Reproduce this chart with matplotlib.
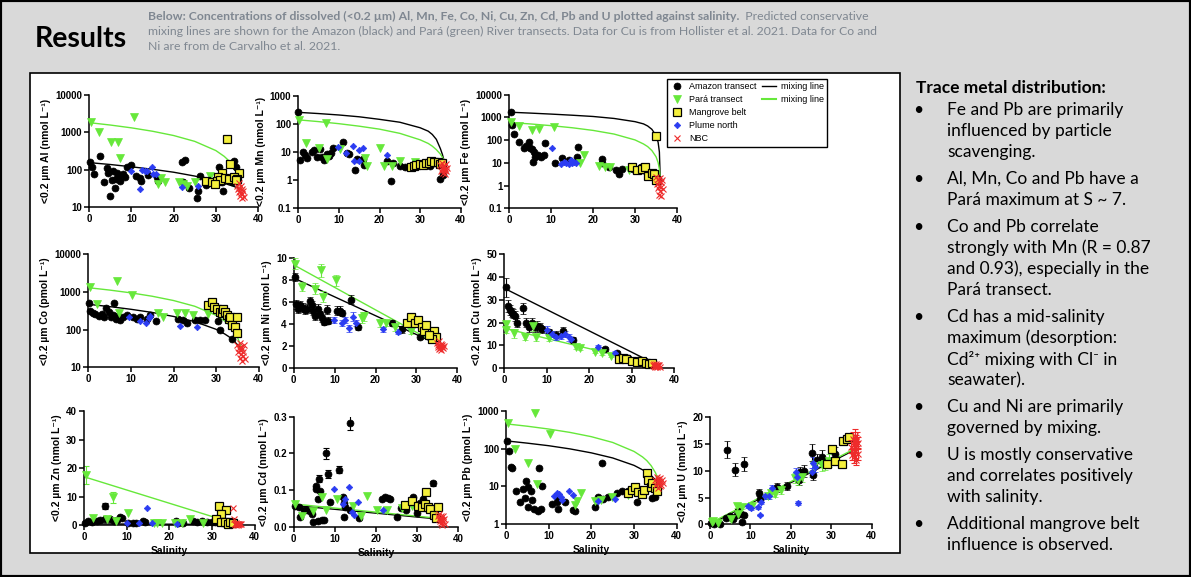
import matplotlib
matplotlib.use('Agg')
import matplotlib.pyplot as plt
from matplotlib.lines import Line2D
from matplotlib.patches import Rectangle

# ---------------- data (salinity, concentration) ----------------
nbc_s = [35.0, 35.2, 35.4, 35.5, 35.6, 35.7, 35.8, 35.9, 36.0, 36.1, 36.2, 36.3, 36.5, 36.7]

# mixing lines: salinity points and concentrations along each line
log_mix_s = [0, 5, 10, 15, 20, 25, 30, 32, 33, 34, 35, 35.5, 35.8, 36]
lin_mix_s = [0, 36]

# Al (nmol/L)
al_amz_s = [0.2, 0.7, 1.2, 2.5, 3.5, 4.3, 4.4, 5.0, 5.3, 5.7, 6.2, 6.6, 6.3, 6.9, 7.3, 7.9, 8.4, 8.9, 9.8, 11.0,
            12.0, 12.3, 14.0, 16.0, 16.4, 21.9, 22.7, 22.1, 23.7, 25.5, 25.8, 26.3, 27.7, 30.8, 31.4, 31.6, 34.3, 34.9, 33.8]
al_amz_c = [162, 117, 79, 234, 46, 110, 81, 20, 53, 93, 32, 83, 56, 66, 51, 77, 66, 121, 132, 68,
            59, 51, 73, 63, 51, 165, 182, 48, 32, 17.5, 27, 70, 39, 117, 48, 28, 175, 117, 48]
al_para_s = [0.3, 2.3, 5.1, 6.9, 7.3, 10.6, 16.9, 16.3, 17.9, 21.3, 22.3, 23.1, 25.0, 28.6]
al_para_c = [1830, 990, 550, 550, 200, 2600, 59, 42, 48, 47, 43, 37, 46, 68]
al_plume_s = [10.0, 12.0, 12.6, 13.2, 13.6, 14.9, 15.2, 15.8, 21.9, 25.8]
al_plume_c = [91, 31, 100, 90, 95, 118, 77, 77, 34, 36]
al_mang_s = [32.6, 33.4, 35.5, 31.4, 30.5, 27.6, 29.0, 30.2, 31.0, 32.2, 33.1, 34.2, 35.0, 34.7, 29.8]
al_mang_c = [650, 142, 81, 83, 66, 51, 46, 50, 54, 60, 56, 66, 57, 54, 42]
al_nbc_c = [38, 30, 45, 25, 33, 20, 28, 36, 24, 18, 30, 22, 27, 19]
al_mix_amz = [155, 138, 120, 103, 86, 68, 51, 44, 40, 37, 33.5, 31.7, 30.7, 30]
al_mix_para = [1800, 1554, 1308, 1062, 817, 571, 325, 227, 178, 128, 79, 55, 40, 30]

# Mn (nmol/L)
mn_amz_s = [0.0, 0.4, 1.1, 1.7, 2.2, 3.3, 3.9, 4.5, 5.4, 5.8, 6.3, 7.0, 7.6, 8.0, 8.6, 11.1, 12.1, 12.5, 14.0, 14.4,
            16.0, 16.2, 21.8, 22.8, 23.4, 25.0, 26.3, 28.3, 30.0, 32.4, 34.9, 35.7]
mn_amz_c = [260, 5.2, 9.7, 7.8, 6.1, 10, 11.8, 6.5, 12.5, 6.5, 5.2, 8.6, 7.3, 9.4, 13.5, 22.7, 9.4, 8.6, 2.27, 5.5,
            5.6, 3.5, 4.7, 0.93, 4.0, 3.0, 2.8, 2.8, 3.5, 3.2, 1.05, 1.5]
mn_para_s = [0.2, 1.9, 5.1, 6.8, 7.1, 10.3, 16.4, 16.8, 20.1, 21.2, 23.0, 25.0, 28.7]
mn_para_c = [140, 20, 13.3, 111, 5.6, 13, 5.8, 3.1, 13.3, 3.1, 3.1, 4.8, 4.4]
mn_plume_s = [9.9, 11.7, 13.4, 13.7, 15.0, 14.9, 16.0, 21.9]
mn_plume_c = [14.5, 9.4, 16.6, 4.7, 4.7, 11.6, 13.3, 7.6]
mn_mang_s = [27.7, 28.5, 29.1, 29.9, 30.7, 31.5, 32.3, 32.7, 33.5, 34.3, 35.0, 35.5]
mn_mang_c = [2.8, 3.1, 3.5, 3.7, 3.4, 4.1, 3.9, 4.7, 4.3, 4.4, 3.8, 4.1]
mn_nbc_c = [3.5, 2.0, 4.0, 2.5, 3.0, 1.8, 2.2, 3.2, 2.8, 1.6, 2.4, 3.8, 2.0, 2.6]
mn_mix_amz = [260, 235, 209, 180, 146, 115, 73, 55, 42, 28, 13, 8, 5.5, 4]
mn_mix_para = [140, 121, 102, 83, 65, 46, 27, 20, 16, 12, 8.3, 6.4, 5.2, 4.5]

# Fe (nmol/L)
fe_amz_s = [0.4, 0.7, 1.2, 2.4, 3.4, 3.9, 4.6, 5.0, 5.5, 5.9, 6.2, 5.7, 6.8, 7.6, 8.2, 8.6, 11.0, 12.6, 14.2, 16.2,
            16.3, 22.0, 22.2, 23.8, 25.4, 26.2, 27.0, 29.4, 31.4, 31.8, 34.2, 35.0, 35.4]
fe_amz_c = [1730, 464, 186, 83, 44, 58, 85, 44, 40, 31, 18, 11, 22, 18, 22, 77, 9.5, 16, 14, 18,
            52, 15, 9.5, 6.8, 4.8, 3.2, 5.5, 5.2, 6.5, 4.8, 3.0, 2.5, 1.9]
fe_para_s = [0.4, 2.2, 5.4, 7.0, 10.6, 17.8, 16.8, 21.5, 22.9, 23.9, 28.6]
fe_para_c = [650, 420, 280, 300, 366, 23, 10, 7.3, 6.3, 6.3, 5.0]
fe_plume_s = [10.2, 12.4, 13.0, 13.6, 14.2, 14.6, 15.0, 15.4, 16.0]
fe_plume_c = [46, 8.6, 10.5, 9.5, 8.6, 13.4, 10, 11, 10]
fe_mang_s = [34.9, 29.2, 30.4, 31.6, 32.4, 33.2, 34.0, 34.6, 35.1]
fe_mang_c = [150, 6.3, 4.8, 5.3, 6.3, 2.7, 3.5, 3.2, 1.8]
fe_nbc_c = [2.5, 1.2, 0.8, 2.0, 0.4, 1.0, 1.6, 0.6, 2.2, 0.35, 1.4, 0.9, 1.8, 0.7]
fe_mix_amz = [1700, 1550, 1400, 1250, 1100, 900, 650, 520, 420, 300, 160, 80, 30, 2]
fe_mix_para = [600, 517, 434, 351, 268, 185, 102, 68, 52, 35, 18.6, 10.3, 5.3, 2]

# Co (pmol/L)
co_amz_s = [0.2, 0.4, 1.0, 1.6, 2.4, 3.1, 3.7, 4.1, 4.8, 5.3, 5.8, 6.0, 6.4, 7.0, 7.4, 8.2, 9.0, 10.6, 11.4, 12.2,
            13.7, 14.6, 16.0, 21.1, 22.3, 23.1, 25.0, 26.2, 27.4, 30.5, 30.9, 33.7]
co_amz_c = [500, 316, 283, 260, 230, 260, 210, 368, 300, 212, 250, 500, 190, 230, 180, 210, 245, 212, 190, 212,
            190, 240, 165, 188, 180, 153, 175, 175, 180, 165, 100, 58]
co_para_s = [0.4, 2.0, 6.8, 7.2, 10.2, 16.4, 17.6, 20.9, 22.7, 24.6, 28.2]
co_para_c = [1380, 470, 1950, 280, 830, 283, 212, 272, 272, 250, 260]
co_plume_s = [9.6, 12.1, 13.5, 14.2, 14.6, 21.5, 25.4]
co_plume_c = [212, 170, 147, 200, 230, 125, 115]
co_mang_s = [28.2, 29.0, 29.4, 30.3, 30.8, 31.3, 31.7, 32.1, 32.5, 33.0, 33.3, 33.7, 34.4, 35.0, 34.8]
co_mang_c = [450, 530, 400, 345, 300, 270, 350, 300, 245, 190, 220, 135, 115, 220, 80]
co_nbc_c = [40, 25, 33, 18, 45, 28, 22, 35, 15, 30, 20, 26, 38, 17]
co_mix_amz = [470, 409, 347, 286, 224, 163, 102, 77, 65, 52.5, 40, 34, 30.5, 28]
co_mix_para = [1300, 1123, 947, 770, 593, 417, 240, 169, 134, 99, 63, 45.7, 35, 28]

# Ni (nmol/L)
ni_amz_s = [0.3, 0.6, 1.1, 1.5, 2.2, 2.7, 3.3, 4.0, 4.4, 4.8, 5.2, 6.0, 6.4, 6.8, 7.4, 8.1, 8.4, 10.7, 11.3, 11.9,
            13.9, 15.8, 24.0, 26.4, 31.0]
ni_amz_c = [8.3, 5.8, 5.4, 5.7, 5.5, 5.3, 5.4, 6.1, 5.7, 5.2, 4.7, 5.4, 4.9, 4.5, 4.2, 5.3, 4.3, 5.2, 5.2, 5.0,
            6.2, 3.75, 4.1, 3.5, 2.8]
ni_amz_e = [0.4, 0.4, 0.4, 0.4, 0.4, 0.4, 0.4, 0.4, 0.4, 0.4, 0.3, 0.4, 0.3, 0.3, 0.3, 0.4, 0.3, 0.4, 0.4, 0.3,
            0.4, 0.3, 0.3, 0.3, 0.2]
ni_para_s = [0.3, 2.0, 5.2, 6.7, 7.2, 10.3, 16.6, 17.2, 21.0, 22.6, 24.8, 28.8]
ni_para_c = [9.5, 7.4, 7.2, 8.9, 6.5, 8.0, 4.5, 4.7, 4.05, 4.1, 3.7, 3.4]
ni_para_e = [0.5, 0.4, 0.5, 0.6, 0.5, 0.5, 0.4, 0.4, 0.3, 0.3, 0.3, 0.3]
ni_plume_s = [9.9, 11.9, 12.5, 13.4, 14.6, 15.2, 21.9, 25.6]
ni_plume_c = [4.35, 4.1, 4.35, 3.6, 4.65, 4.1, 3.5, 3.3]
ni_plume_e = [0.3, 0.3, 0.3, 0.3, 0.4, 0.3, 0.2, 0.2]
ni_mang_s = [27.6, 28.8, 29.6, 30.5, 31.3, 31.9, 32.4, 34.4, 34.9, 33.9, 33.2]
ni_mang_c = [4.05, 4.65, 4.1, 4.4, 3.7, 3.4, 3.9, 3.4, 2.8, 2.6, 3.0]
ni_nbc_c = [2.3, 1.9, 2.1, 1.7, 2.4, 2.0, 1.8, 2.2, 1.6, 2.0, 1.9, 2.1, 1.8, 2.0]
ni_mix_amz = [8.2, 2.0]
ni_mix_para = [9.4, 2.0]

# Cu (nmol/L)
cu_amz_s = [0.3, 0.8, 1.3, 1.7, 2.1, 2.5, 3.1, 4.5, 5.2, 5.8, 6.6, 7.2, 7.8, 8.4, 8.9, 10.5, 12.3, 13.9, 16.3, 23.7,
            26.5, 29.2, 31.4, 33.2, 34.7]
cu_amz_c = [35.4, 27.3, 25.5, 24.3, 23.8, 22.9, 20, 26.2, 20, 18, 20, 18, 18.5, 17.9, 17, 15.9, 14.6, 16.5, 12.4, 8.3,
            6.9, 4.5, 3.6, 3.4, 2.5]
cu_amz_e = [4, 2.5, 2, 2, 2, 2, 2, 2.5, 2, 2, 2, 2, 2, 2, 1.5, 1.5, 1.5, 1.5, 1.2, 0.8,
            0.7, 0.5, 0.4, 0.4, 0.3]
cu_para_s = [0.3, 0.4, 2.4, 4.9, 6.8, 7.4, 10.6, 17.0, 17.8, 21.4, 23.0, 25.1]
cu_para_c = [19.4, 16.8, 15.3, 13.8, 18.5, 13.6, 13.1, 9.5, 8.8, 7.3, 6.6, 5.4]
cu_para_e = [1.5, 1.5, 2, 1.5, 2, 1.5, 1, 1, 1, 0.8, 0.7, 0.6]
cu_plume_s = [10.0, 11.3, 12.3, 13.3, 14.3, 15.2, 15.7, 22.2, 26.1]
cu_plume_c = [16.8, 15.0, 13.8, 14.1, 15.0, 13.6, 12.7, 9.2, 6.9]
cu_plume_e = [1.5, 1.5, 1.5, 1.5, 1.5, 1.5, 1.2, 0.8, 0.6]
cu_mang_s = [27.0, 28.0, 28.8, 30.2, 31.2, 32.4, 33.3, 34.1, 34.7]
cu_mang_c = [3.9, 4.4, 3.9, 3.4, 2.9, 3.4, 2.2, 1.8, 2.5]
cu_nbc_c = [1.5, 0.8, 2.0, 1.2, 0.6, 1.8, 1.0, 1.4, 0.5, 1.1, 1.6, 0.9, 1.3, 0.7]
cu_mix_amz = [35.0, 1.5]
cu_mix_para = [17.5, 1.5]

# Zn (nmol/L)
zn_amz_s = [0.2, 1.0, 1.8, 3.0, 3.7, 4.9, 5.0, 6.1, 7.0, 7.8, 8.4, 8.8, 10.4, 11.5, 12.3, 13.8, 14.4, 21.6, 22.1, 23.3,
            25.6, 26.4, 27.6, 28.8, 29.9, 30.7, 32.7, 34.2]
zn_amz_c = [0.9, 1.6, 1.3, 1.6, 1.9, 2.2, 6.8, 2.1, 1.6, 1.9, 2.8, 2.4, 0.9, 0.9, 0.7, 1.6, 1.0, 1.6, 0.9, 0.7,
            1.6, 1.3, 1.6, 1.3, 1.0, 1.0, 0.7, 0.5]
zn_para_s = [0.5, 2.0, 5.3, 6.9, 7.5, 10.4, 16.3, 17.1, 18.3, 21.4, 22.9, 24.8, 28.0]
zn_para_c = [17.6, 2.4, 2.1, 9.8, 1.6, 4.2, 0.7, 0.9, 0.9, 0.7, 0.7, 2.2, 0.7]
zn_plume_s = [10.0, 13.0, 14.7, 16.0, 21.7]
zn_plume_c = [0.9, 0.9, 6.2, 0.7, 0.5]
zn_mang_s = [31.7, 33.3, 32.0, 31.0, 32.2, 33.0, 33.8, 34.2, 35.0]
zn_mang_c = [6.8, 5.4, 3.8, 2.1, 1.3, 1.3, 0.5, 1.0, 0.7]
zn_nbc_c = [5.9, 2.2, 0.5, 0.3, 0.7, 0.2, 0.4, 0.6, 0.3, 0.5, 0.2, 0.4, 0.3, 0.6]
zn_amz_bar_s = [5.0]
zn_amz_bar_c = [6.8]
zn_amz_bar_e = [1.0]
zn_para_bar_s = [0.5, 6.9]
zn_para_bar_c = [17.6, 9.8]
zn_para_bar_e = [3.2, 2.0]
zn_mix_amz = [0.5, 0.3]
zn_mix_para = [17.0, 0.3]

# Cd (nmol/L)
cd_amz_s = [0.3, 1.4, 1.5, 2.5, 3.2, 4.0, 4.4, 4.8, 5.4, 5.5, 5.9, 5.9, 6.2, 6.5, 6.8, 7.4, 7.9, 8.4, 8.8, 10.9,
            12.1, 12.3, 12.3, 12.5, 13.8, 13.7, 15.9, 21.4, 22.2, 23.0, 23.4, 25.0, 26.0, 27.4, 28.9, 29.9, 30.7, 31.5,
            33.9, 34.9]
cd_amz_c = [0.056, 0.053, 0.027, 0.045, 0.045, 0.042, 0.036, 0.014, 0.111, 0.102, 0.075, 0.016, 0.131, 0.097, 0.018,
            0.018, 0.2, 0.144, 0.068, 0.156, 0.082, 0.064, 0.027, 0.053, 0.284, 0.045, 0.025, 0.075, 0.082, 0.079,
            0.076, 0.027, 0.05, 0.045, 0.08, 0.038, 0.065, 0.075, 0.118, 0.053]
cd_para_s = [0.3, 1.9, 4.7, 6.8, 7.9, 10.6, 14.3, 16.3, 17.7, 20.2, 22.6, 26.2, 28.7]
cd_para_c = [0.062, 0.029, 0.044, 0.08, 0.045, 0.075, 0.056, 0.029, 0.084, 0.045, 0.045, 0.05, 0.056]
cd_plume_s = [9.9, 12.1, 12.5, 13.5, 14.1, 14.7, 15.7, 21.8]
cd_plume_c = [0.102, 0.062, 0.075, 0.107, 0.041, 0.032, 0.068, 0.045]
cd_mang_s = [27.0, 28.7, 32.1, 30.3, 31.1, 31.9, 32.7, 33.1, 34.0, 34.7, 35.1]
cd_mang_c = [0.059, 0.071, 0.095, 0.056, 0.053, 0.062, 0.055, 0.048, 0.032, 0.025, 0.053]
cd_nbc_c = [0.03, 0.02, 0.035, 0.015, 0.025, 0.01, 0.02, 0.03, 0.005, 0.018, 0.028, 0.012, 0.022, 0.008]
cd_amz_bar_s = [6.2, 7.9, 8.4, 10.9, 13.8, 33.9]
cd_amz_bar_c = [0.131, 0.2, 0.144, 0.156, 0.284, 0.118]
cd_amz_bar_e = [0.01, 0.015, 0.01, 0.01, 0.02, 0.008]
cd_mix_amz = [0.058, 0.02]
cd_mix_para = [0.062, 0.022]

# Pb (pmol/L)
pb_amz_s = [0.3, 0.8, 1.2, 1.5, 2.3, 3.3, 4.1, 4.5, 4.8, 5.2, 5.2, 5.8, 6.1, 6.6, 7.4, 7.7, 8.3, 8.5, 10.7, 11.9,
            12.1, 12.3, 13.8, 15.8, 16.2, 20.9, 21.5, 22.4, 22.8, 24.0, 25.9, 27.1, 28.7, 30.6, 34.1, 34.9]
pb_amz_c = [161, 88, 32, 30, 7.8, 4, 8.4, 5, 14, 9.4, 2.8, 7.8, 4.4, 2.6, 2.2, 30, 2.6, 10.4, 3.5, 4,
            2.6, 5.2, 4, 2.4, 2.2, 2.9, 5.2, 42, 4.6, 5.2, 6.6, 7.4, 7.8, 4, 4.9, 5.3]
pb_para_s = [0.4, 2.1, 5.1, 6.8, 7.2, 10.3, 16.6, 16.2, 17.6, 20.9, 22.3, 24.8, 28.5, 29.4]
pb_para_c = [480, 100, 42, 850, 11.5, 240, 4.2, 3.2, 6.9, 4.2, 4.4, 5.3, 6.0, 6.6]
pb_plume_s = [11.3, 11.9, 12.4, 12.9, 13.2, 14.8, 15.6, 21.5, 25.5]
pb_plume_c = [5.6, 6.9, 6.3, 5.4, 4.4, 7.7, 5.8, 4.2, 4.6]
pb_mang_s = [33.0, 28.7, 29.5, 30.2, 31.0, 31.8, 32.4, 33.2, 33.9, 34.3, 34.9, 35.3]
pb_mang_c = [23, 6.8, 8.2, 9.5, 7.2, 6.5, 8.0, 15, 9.5, 12, 9.0, 7.4]
pb_nbc_c = [15, 11, 18, 13, 9, 16, 12, 14, 10, 17, 13, 11, 15, 12]
pb_mix_amz = [160, 139, 119, 98, 77, 56.5, 36, 27.5, 23.4, 19.3, 15.1, 13.1, 11.8, 11]
pb_mix_para = [450, 389, 328, 267, 206, 145, 84, 60, 48, 35.5, 23.3, 17.2, 13.4, 11]

# U (nmol/L)
u_amz_s = [0.2, 1.0, 2.5, 3.9, 4.2, 4.9, 5.7, 6.2, 6.6, 7.0, 7.6, 7.8, 8.5, 8.5, 12.1, 12.3, 16.5, 19.0, 21.9, 22.3,
           23.3, 25.2, 25.6, 26.4, 27.6, 30.9]
u_amz_c = [0.2, 0.1, 0.1, 1.1, 13.9, 1.6, 0.9, 10.2, 1.7, 2.5, 2.0, 0.5, 11.3, 1.7, 5.9, 4.7, 6.9, 7.2, 8.3, 9.7,
           10.0, 13.4, 9.2, 12.0, 12.6, 13.1]
u_amz_e = [0.1, 0.1, 0.1, 0.3, 1.6, 0.3, 0.2, 1.2, 0.3, 0.4, 0.3, 0.2, 1.3, 0.3, 0.7, 0.5, 0.8, 0.8, 0.9, 1.0,
           1.1, 1.6, 1.0, 1.2, 1.3, 1.4]
u_para_s = [0.4, 0.8, 2.0, 5.1, 6.6, 7.0, 8.0, 10.5, 14.4, 15.1, 16.2, 17.6, 21.0, 21.7, 22.7, 25.8, 27.6, 28.4, 29.4]
u_para_c = [0.5, 0.7, 0.3, 0.9, 3.4, 2.0, 3.2, 3.4, 5.3, 5.8, 5.7, 6.4, 8.6, 8.3, 8.8, 10.9, 11.1, 11.3, 11.9]
u_para_e = [0.1, 0.1, 0.1, 0.2, 0.4, 0.3, 0.4, 0.4, 0.6, 0.6, 0.6, 0.7, 0.9, 0.9, 0.9, 1.1, 1.1, 1.1, 1.2]
u_plume_s = [9.3, 10.1, 11.8, 12.4, 12.7, 13.5, 14.5, 15.3, 21.2, 21.7, 21.5, 25.6, 25.2, 26.0]
u_plume_c = [3.4, 3.0, 3.2, 1.7, 4.2, 5.2, 5.3, 6.7, 9.7, 4.0, 8.9, 11.5, 9.7, 10.7]
u_plume_e = [0.3, 0.3, 0.3, 0.2, 0.4, 0.5, 0.5, 0.6, 0.9, 0.3, 0.8, 1.0, 0.9, 1.0]
u_mang_s = [28.9, 30.1, 30.9, 33.0, 32.7, 33.8, 34.3]
u_mang_c = [11.3, 14.0, 11.9, 15.6, 11.3, 15.9, 16.3]
u_nbc_c = [14.5, 13, 16, 12.5, 15, 14, 16.5, 13.5, 15.5, 12, 14.8, 16, 13.2, 15.2]
u_nbc_e = [1.2, 1.0, 1.3, 1.0, 1.2, 1.1, 1.3, 1.1, 1.2, 1.0, 1.2, 1.3, 1.1, 1.2]
u_mix_amz = [0.0, 14.0]
u_mix_para = [0.2, 14.2]

# ---------------- styles ----------------
GREEN = '#66e83a'
YELLOW = '#f4ef3c'
BLUE = '#2b3cf2'
RED = '#ee2b2b'
GREY_TXT = '#7f8791'

amz_style = dict(marker='o', ms=5, mfc='black', mec='black', mew=0.5, zorder=3)
para_style = dict(marker='v', ms=5.5, mfc=GREEN, mec=GREEN, mew=0.5, zorder=3)
plume_style = dict(marker='D', ms=3.3, mfc=BLUE, mec=BLUE, mew=0.5, zorder=3)
mang_style = dict(marker='s', ms=5.5, mfc=YELLOW, mec='black', mew=0.9, zorder=4)
nbc_style = dict(marker='x', ms=5, mfc=RED, mec=RED, mew=0.8, zorder=5)

plt.rcParams['font.family'] = ['Liberation Sans', 'DejaVu Sans']
SLIDE_FONT = ['Lato', 'DejaVu Sans']

W, H = 1191, 577
fig = plt.figure(figsize=(W / 100, H / 100), dpi=100)
fig.patch.set_facecolor('#d9d9d9')

# white panel behind the plots
fig.add_artist(Rectangle((30 / W, 1 - 553 / H), 870 / W, 480 / H, transform=fig.transFigure,
                         facecolor='white', edgecolor='black', lw=1.2, zorder=-1))
# slide border
fig.add_artist(Rectangle((0, 0), 1, 1, transform=fig.transFigure, fill=False,
                         edgecolor='black', lw=3, zorder=10))


def new_axes(x0, x1, y0, y1):
    # pixel box -> figure fractions
    return fig.add_axes([x0 / W, 1 - y1 / H, (x1 - x0) / W, (y1 - y0) / H])


def setup(ax, ylog, yticks, ylabel, fmt='%g', xlabel=False):
    if ylog:
        ax.set_yscale('log')
    ax.set_xlim(0, 40)
    ax.set_ylim(yticks[0], yticks[-1])
    ax.set_xticks([0, 10, 20, 30, 40])
    ax.set_yticks(yticks)
    ax.set_yticklabels([fmt % v for v in yticks])
    ax.minorticks_off()
    ax.set_facecolor('none')
    ax.spines[['top', 'right']].set_visible(False)
    ax.spines['left'].set_linewidth(1.1)
    ax.spines['bottom'].set_linewidth(1.1)
    ax.tick_params(labelsize=7, width=1.1, length=3.5, pad=1.5)
    for lab in ax.get_xticklabels() + ax.get_yticklabels():
        lab.set_fontweight('bold')
    ax.set_ylabel(ylabel, fontsize=7.5, fontweight='bold', labelpad=3)
    if xlabel:
        ax.set_xlabel('Salinity', fontsize=7.5, fontweight='bold', labelpad=3)


def pts(ax, s, c, style, e=None, ecolor='black'):
    if e is None:
        ax.plot(s, c, ls='none', clip_on=False, **style)
    else:
        ax.errorbar(s, c, yerr=e, ls='none', ecolor=ecolor, elinewidth=0.8, capsize=2,
                    capthick=0.8, clip_on=False, **style)


def draw(ax, mix_s, mix_amz, mix_para, amz_s, amz_c, para_s, para_c, plume_s, plume_c,
         mang_s, mang_c, nbc_c, amz_e=None, para_e=None, plume_e=None, nbc_e=None):
    ax.plot(mix_s, mix_amz, color='black', lw=1, zorder=2.5)
    ax.plot(mix_s, mix_para, color=GREEN, lw=1, zorder=2.5)
    pts(ax, amz_s, amz_c, amz_style, amz_e, 'black')
    pts(ax, para_s, para_c, para_style, para_e, GREEN)
    pts(ax, plume_s, plume_c, plume_style, plume_e, BLUE)
    pts(ax, mang_s, mang_c, mang_style)
    pts(ax, nbc_s, nbc_c, nbc_style, nbc_e, RED)


# ---- row 1 ----
ax = new_axes(89.3, 258, 94.7, 207.3)
setup(ax, True, [10, 100, 1000, 10000], '<0.2 µm Al (nmol L⁻¹)')
draw(ax, log_mix_s, al_mix_amz, al_mix_para, al_amz_s, al_amz_c, al_para_s, al_para_c,
     al_plume_s, al_plume_c, al_mang_s, al_mang_c, al_nbc_c)

ax = new_axes(298.3, 460.7, 96, 207.7)
setup(ax, True, [0.1, 1, 10, 100, 1000], '<0.2 µm Mn (nmol L⁻¹)')
draw(ax, log_mix_s, mn_mix_amz, mn_mix_para, mn_amz_s, mn_amz_c, mn_para_s, mn_para_c,
     mn_plume_s, mn_plume_c, mn_mang_s, mn_mang_c, mn_nbc_c)

ax = new_axes(509.3, 677, 94.7, 208.3)
setup(ax, True, [0.1, 1, 10, 100, 1000, 10000], '<0.2 µm Fe (nmol L⁻¹)')
draw(ax, log_mix_s, fe_mix_amz, fe_mix_para, fe_amz_s, fe_amz_c, fe_para_s, fe_para_c,
     fe_plume_s, fe_plume_c, fe_mang_s, fe_mang_c, fe_nbc_c)

# ---- row 2 ----
ax = new_axes(88.3, 258.7, 254.3, 367.3)
setup(ax, True, [10, 100, 1000, 10000], '<0.2 µm Co (pmol L⁻¹)')
draw(ax, log_mix_s, co_mix_amz, co_mix_para, co_amz_s, co_amz_c, co_para_s, co_para_c,
     co_plume_s, co_plume_c, co_mang_s, co_mang_c, co_nbc_c)

ax = new_axes(293.7, 457.3, 258.3, 367.7)
setup(ax, False, [0, 2, 4, 6, 8, 10], '<0.2 µm Ni (nmol L⁻¹)')
draw(ax, lin_mix_s, ni_mix_amz, ni_mix_para, ni_amz_s, ni_amz_c, ni_para_s, ni_para_c,
     ni_plume_s, ni_plume_c, ni_mang_s, ni_mang_c, ni_nbc_c,
     amz_e=ni_amz_e, para_e=ni_para_e, plume_e=ni_plume_e)

ax = new_axes(504.3, 674, 254, 368.3)
setup(ax, False, [0, 10, 20, 30, 40, 50], '<0.2 µm Cu (nmol L⁻¹)')
draw(ax, lin_mix_s, cu_mix_amz, cu_mix_para, cu_amz_s, cu_amz_c, cu_para_s, cu_para_c,
     cu_plume_s, cu_plume_c, cu_mang_s, cu_mang_c, cu_nbc_c,
     amz_e=cu_amz_e, para_e=cu_para_e, plume_e=cu_plume_e)

# ---- row 3 ----
ax = new_axes(84, 254.7, 411, 525.3)
setup(ax, False, [0, 10, 20, 30, 40], '<0.2 µm Zn (nmol L⁻¹)', xlabel=True)
draw(ax, lin_mix_s, zn_mix_amz, zn_mix_para, zn_amz_s, zn_amz_c, zn_para_s, zn_para_c,
     zn_plume_s, zn_plume_c, zn_mang_s, zn_mang_c, zn_nbc_c)
ax.errorbar(zn_amz_bar_s, zn_amz_bar_c, yerr=zn_amz_bar_e, fmt='none', ecolor='black',
            elinewidth=0.8, capsize=2, capthick=0.8)
ax.errorbar(zn_para_bar_s, zn_para_bar_c, yerr=zn_para_bar_e, fmt='none', ecolor=GREEN,
            elinewidth=0.8, capsize=2, capthick=0.8, clip_on=False)

ax = new_axes(293.7, 458.3, 416.7, 526.7)
setup(ax, False, [0.0, 0.1, 0.2, 0.3], '<0.2 µm Cd (nmol L⁻¹)', fmt='%.1f', xlabel=True)
draw(ax, lin_mix_s, cd_mix_amz, cd_mix_para, cd_amz_s, cd_amz_c, cd_para_s, cd_para_c,
     cd_plume_s, cd_plume_c, cd_mang_s, cd_mang_c, cd_nbc_c)
ax.errorbar(cd_amz_bar_s, cd_amz_bar_c, yerr=cd_amz_bar_e, fmt='none', ecolor='black',
            elinewidth=0.8, capsize=2, capthick=0.8)

ax = new_axes(506, 676.7, 410.7, 524.3)
setup(ax, True, [1, 10, 100, 1000], '<0.2 µm Pb (pmol L⁻¹)', xlabel=True)
draw(ax, log_mix_s, pb_mix_amz, pb_mix_para, pb_amz_s, pb_amz_c, pb_para_s, pb_para_c,
     pb_plume_s, pb_plume_c, pb_mang_s, pb_mang_c, pb_nbc_c)

ax = new_axes(710, 871.7, 417.3, 524.3)
setup(ax, False, [0, 5, 10, 15, 20], '<0.2 µm U (nmol L⁻¹)', xlabel=True)
draw(ax, lin_mix_s, u_mix_amz, u_mix_para, u_amz_s, u_amz_c, u_para_s, u_para_c,
     u_plume_s, u_plume_c, u_mang_s, u_mang_c, u_nbc_c,
     amz_e=u_amz_e, para_e=u_para_e, plume_e=u_plume_e, nbc_e=u_nbc_e)

# ---- legend ----
h_amz = Line2D([], [], ls='none', **amz_style)
h_para = Line2D([], [], ls='none', **para_style)
h_mang = Line2D([], [], ls='none', **mang_style)
h_plume = Line2D([], [], ls='none', **plume_style)
h_nbc = Line2D([], [], ls='none', **nbc_style)
h_black = Line2D([], [], color='black', lw=1)
h_green = Line2D([], [], color=GREEN, lw=1.5)
blank = Line2D([], [], ls='none')
fig.legend([h_amz, h_para, h_mang, h_plume, h_nbc, h_black, h_green, blank, blank, blank],
           ['Amazon transect', 'Pará transect', 'Mangrove belt', 'Plume north', 'NBC',
            'mixing line', 'mixing line', '', '', ''],
           ncol=2, loc='upper left', bbox_to_anchor=(667 / W, 1 - 79 / H), borderaxespad=0,
           fontsize=6.5, frameon=True, fancybox=False, edgecolor='black', framealpha=1,
           handlelength=1.5, handletextpad=0.6, columnspacing=0.6, labelspacing=0.45,
           borderpad=0.35)

# ---- slide texts ----
fig.text(35 / W, 1 - 39 / H, 'Results', fontsize=20.5, fontweight='bold', family=SLIDE_FONT,
         va='center', ha='left')

r = fig.canvas.get_renderer()
t1 = fig.text(148 / W, 1 - 16 / H,
              'Below: Concentrations of dissolved (<0.2 µm) Al, Mn, Fe, Co, Ni, Cu, Zn, Cd, Pb and U '
              'plotted against salinity.', fontsize=8.8, fontweight='bold', color=GREY_TXT,
              family=SLIDE_FONT, va='center')
x_end = t1.get_window_extent(r).x1
fig.text(x_end / W, 1 - 16 / H, '  Predicted conservative', fontsize=8.8, color=GREY_TXT,
         family=SLIDE_FONT, va='center')
fig.text(148 / W, 1 - 31 / H,
         'mixing lines are shown for the Amazon (black) and Pará (green) River transects. '
         'Data for Cu is from Hollister et al. 2021. Data for Co and', fontsize=8.8, color=GREY_TXT,
         family=SLIDE_FONT, va='center')
fig.text(148 / W, 1 - 46 / H, 'Ni are from de Carvalho et al. 2021.', fontsize=8.8, color=GREY_TXT,
         family=SLIDE_FONT, va='center')

# right hand text
fig.text(916 / W, 1 - 88 / H, 'Trace metal distribution:', fontsize=12.5, fontweight='bold',
         family=SLIDE_FONT, va='center')
bullets = [
    ['Fe and Pb are primarily', 'influenced by particle', 'scavenging.'],
    ['Al, Mn, Co and Pb have a', 'Pará maximum at S ~ 7.'],
    ['Co and Pb correlate', 'strongly with Mn (R = 0.87', 'and 0.93), especially in the', 'Pará transect.'],
    ['Cd has a mid-salinity', 'maximum (desorption:', 'Cd²⁺ mixing with Cl⁻ in', 'seawater).'],
    ['Cu and Ni are primarily', 'governed by mixing.'],
    ['U is mostly conservative', 'and correlates positively', 'with salinity.'],
    ['Additional mangrove belt', 'influence is observed.'],
]
y = 110
for lines in bullets:
    fig.text(913 / W, 1 - y / H, '•', fontsize=12.5, family=SLIDE_FONT, va='center')
    for line in lines:
        fig.text(947 / W, 1 - y / H, line, fontsize=12.5, family=SLIDE_FONT, va='center')
        y += 21
    y += 6

fig.savefig('out.png', dpi=100)
